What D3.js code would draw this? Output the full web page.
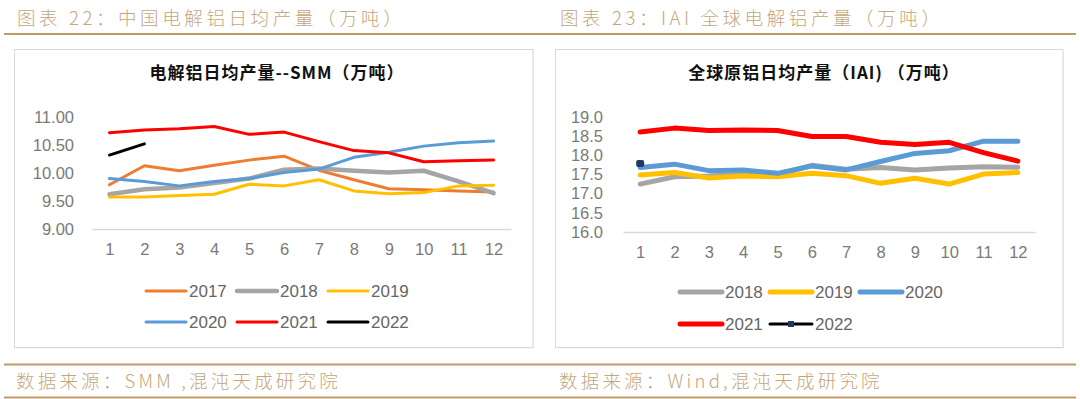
<!DOCTYPE html>
<html><head><meta charset="utf-8">
<script src="https://cdn.jsdelivr.net/npm/d3@7"></script>
<style>
html,body{margin:0;padding:0;background:#fff;}
svg{display:block;}
</style></head>
<body>
<svg id="c" width="1080" height="399"></svg>
<script>
// ---------- data ----------
const months = [1,2,3,4,5,6,7,8,9,10,11,12];

// SMM China daily average electrolytic aluminium output (10k t)
const smmSeriesNames = ["2017","2018","2019","2020","2021","2022"];
const smm2017 = [9.79,10.13,10.04,10.14,10.23,10.30,10.05,9.88,9.72,9.70,9.68,9.66];
const smm2018 = [9.62,9.71,9.74,9.82,9.90,10.06,10.08,10.04,10.01,10.04,9.85,9.64];
const smm2019 = [9.57,9.57,9.60,9.62,9.80,9.77,9.88,9.68,9.63,9.65,9.77,9.78];
const smm2020 = [9.90,9.85,9.77,9.85,9.90,10.01,10.07,10.28,10.37,10.48,10.54,10.57];
const smm2021 = [10.72,10.77,10.79,10.83,10.69,10.73,10.56,10.40,10.36,10.20,10.22,10.23];
const smm2022 = [10.32,10.52];
const smmTicks = [9.0,9.5,10.0,10.5,11.0];

// IAI global primary aluminium daily output (10k t)
const iaiSeriesNames = ["2018","2019","2020","2021","2022"];
const iai2018 = [17.25,17.44,17.46,17.50,17.50,17.74,17.64,17.68,17.62,17.67,17.70,17.69];
const iai2019 = [17.49,17.55,17.41,17.46,17.44,17.53,17.47,17.27,17.40,17.25,17.51,17.55];
const iai2020 = [17.68,17.77,17.60,17.62,17.53,17.72,17.62,17.84,18.05,18.12,18.37,18.37];
const iai2021 = [18.61,18.71,18.65,18.66,18.65,18.49,18.49,18.34,18.28,18.34,18.07,17.85];
const iai2022 = [17.79];
const iaiTicks = [16.0,16.5,17.0,17.5,18.0,18.5,19.0];

const headerLeft = "图表 22：中国电解铝日均产量（万吨）";
const headerRight = "图表 23：IAI 全球电解铝产量（万吨）";
const titleLeft = "电解铝日均产量--SMM（万吨）";
const titleRight = "全球原铝日均产量（IAI) （万吨）";
const sourceLeft = "数据来源：SMM ,混沌天成研究院";
const sourceRight = "数据来源：Wind,混沌天成研究院";

// ---------- drawing ----------
const svg = d3.select("#c");
const gold = "#bd9c66";
const tan = "#c2a77c";
const cjk = "'Noto Sans CJK SC','Noto Sans',sans-serif";
const num = "'Liberation Sans','DejaVu Sans',sans-serif";

svg.append("rect").attr("width",1080).attr("height",399).attr("fill","#fff");

// headers
function hdr(x,y,t,ls){
  svg.append("text").attr("x",x).attr("y",y).text(t)
    .attr("font-family",cjk).attr("font-size",18.5).attr("font-weight",300)
    .attr("letter-spacing",ls).attr("fill",tan);
}
hdr(17,25,headerLeft,3.6);
hdr(560,25,headerRight,3.6);
svg.append("line").attr("x1",4).attr("x2",1076).attr("y1",34).attr("y2",34)
  .attr("stroke",gold).attr("stroke-width",2);

// footer
svg.append("line").attr("x1",4).attr("x2",1076).attr("y1",364.5).attr("y2",364.5)
  .attr("stroke",gold).attr("stroke-width",2);
svg.append("line").attr("x1",4).attr("x2",1076).attr("y1",397.5).attr("y2",397.5)
  .attr("stroke",gold).attr("stroke-width",2);
hdr(16,388,sourceLeft,3.2);
hdr(559,388,sourceRight,3.2);

// panels
function panel(x0,x1){
  svg.append("rect").attr("x",x0+1).attr("y",50.5).attr("width",x1-x0).attr("height",298)
    .attr("fill","#eee");
  svg.append("rect").attr("x",x0).attr("y",49.5).attr("width",x1-x0).attr("height",298)
    .attr("fill","#fff").attr("stroke","#d9d9d9").attr("stroke-width",1);
}
panel(14.5,533);
panel(555.5,1063);

function chart(cfg){
  const g = svg.append("g");
  g.append("text").attr("x",cfg.titleX).attr("y",79).attr("text-anchor","middle")
    .text(cfg.title).attr("font-family",cjk).attr("font-size",17).attr("font-weight",700)
    .attr("letter-spacing",1).attr("fill","#111");

  const x = d3.scalePoint().domain(months).range(cfg.xr).padding(0.5);
  const y = d3.scaleLinear().domain(cfg.yd).range(cfg.yr);

  const ya = d3.axisLeft(y).tickValues(cfg.ticks).tickSize(0).tickPadding(0)
    .tickFormat(d3.format(cfg.fmt));
  const yg = g.append("g").attr("transform",`translate(${cfg.yLabX},0)`).call(ya);
  yg.select(".domain").remove();
  yg.selectAll("text").attr("font-family",num).attr("font-size",cfg.fs).attr("fill","#7a7a7a");

  const xa = d3.axisBottom(x).tickSize(0).tickPadding(14);
  const xg = g.append("g").attr("transform",`translate(0,${cfg.yr[0]})`).call(xa);
  xg.select(".domain").attr("stroke","#d9d9d9").attr("stroke-width",1.5);
  xg.selectAll("text").attr("font-family",num).attr("font-size",cfg.fs).attr("fill","#7a7a7a");

  const line = d3.line().x((d,i)=>x(months[i])).y(d=>y(d));
  cfg.series.forEach(s=>{
    if (s.vals.length>1){
      g.append("path").attr("d",line(s.vals)).attr("fill","none")
        .attr("stroke",s.color).attr("stroke-width",s.w)
        .attr("stroke-linejoin","round").attr("stroke-linecap","round");
    }
    if (s.marker){
      s.vals.forEach((v,i)=>{
        g.append("rect").attr("x",x(months[i])-4).attr("y",y(v)-3.5)
          .attr("width",8).attr("height",7).attr("rx",2).attr("fill",s.marker);
      });
    }
  });

  // legend
  cfg.legend.forEach((row,ri)=>{
    row.forEach((s,ci)=>{
      const lx = cfg.legX + ci*cfg.legStep;
      const ly = cfg.legY[ri];
      g.append("line").attr("x1",lx).attr("x2",lx+cfg.swW).attr("y1",ly).attr("y2",ly)
        .attr("stroke",s.color).attr("stroke-width",s.lw).attr("stroke-linecap","round");
      if (s.marker){
        g.append("rect").attr("x",lx+cfg.swW/2-3).attr("y",ly-3).attr("width",6).attr("height",6)
          .attr("fill",s.marker);
      }
      g.append("text").attr("x",lx+cfg.swW+3).attr("y",ly).attr("dy","0.36em")
        .text(s.name).attr("font-family",num).attr("font-size",17).attr("fill","#666");
    });
  });
}

const cOrange="#ED7D31", cGray="#A5A5A5", cYellow="#FFC000", cBlue="#5B9BD5", cRed="#FF0000", cBlack="#000000", cNavy="#1F3864";

const smmVals = [smm2017,smm2018,smm2019,smm2020,smm2021,smm2022];
const smmColors = [cOrange,cGray,cYellow,cBlue,cRed,cBlack];
const smmW = [3,4.5,3,3,3,3];
const smmS = smmSeriesNames.map((n,i)=>({name:n,vals:smmVals[i],color:smmColors[i],w:smmW[i],lw:smmW[i]}));
chart({
  title:titleLeft, titleX:277,
  xr:[92,511], yd:[9,11], yr:[229,117], ticks:smmTicks, fmt:".2f", yLabX:74, fs:16.5,
  series:smmS,
  legend:[[smmS[0],smmS[1],smmS[2]],[smmS[3],smmS[4],smmS[5]]],
  legX:146, legStep:91, legY:[291,322], swW:40
});

const iaiVals = [iai2018,iai2019,iai2020,iai2021,iai2022];
const iaiColors = [cGray,cYellow,cBlue,cRed,cBlack];
const iaiS = iaiSeriesNames.map((n,i)=>({name:n,vals:iaiVals[i],color:iaiColors[i],w:5,lw:5}));
iaiS[4].marker = cNavy; iaiS[4].lw = 3;
chart({
  title:titleRight, titleX:824,
  xr:[623,1035], yd:[16,19], yr:[232,117], ticks:iaiTicks, fmt:".1f", yLabX:603, fs:16.5,
  series:iaiS,
  legend:[[iaiS[0],iaiS[1],iaiS[2]],[iaiS[3],iaiS[4]]],
  legX:680, legStep:90, legY:[292,324], swW:42
});
</script>
</body></html>
